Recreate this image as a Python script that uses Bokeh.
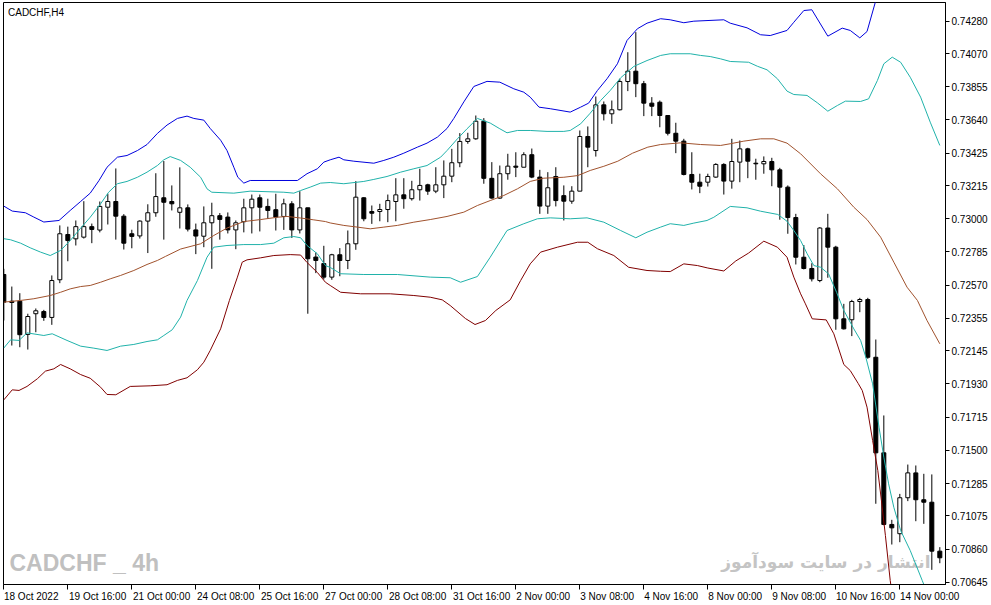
from bokeh.plotting import figure
from bokeh.models import ColumnDataSource, FixedTicker, Range1d, PrintfTickFormatter, Label
from bokeh.embed import file_html
from bokeh.resources import INLINE

# ---------------- data ----------------
symbol_title = "CADCHF,H4"
watermark_left = "CADCHF _ 4h"
watermark_right = "انتشار در سایت سودآموز"

open_ = [0.72639, 0.72466, 0.72466, 0.72251, 0.72385, 0.72399, 0.72361, 0.72605, 0.72898, 0.72870,
         0.72881, 0.72949, 0.72927, 0.73075, 0.73112, 0.73017, 0.72903, 0.72889, 0.72985, 0.73039,
         0.73136, 0.73112, 0.73042, 0.73071, 0.72928, 0.72887, 0.72974, 0.73020, 0.73011, 0.72928,
         0.72981, 0.73071, 0.73136, 0.73080, 0.73059, 0.73015, 0.73097, 0.72928, 0.73071, 0.72752,
         0.72710, 0.72622, 0.72767, 0.72730, 0.72838, 0.73136, 0.73047, 0.73047, 0.73060, 0.73112,
         0.73155, 0.73130, 0.73188, 0.73220, 0.73179, 0.73220, 0.73276, 0.73363, 0.73501, 0.73518,
         0.73632, 0.73262, 0.73134, 0.73292, 0.73341, 0.73334, 0.73415, 0.73270, 0.73082, 0.73274,
         0.73150, 0.73114, 0.73179, 0.73533, 0.73442, 0.73738, 0.73680, 0.73706, 0.73889, 0.73956,
         0.73875, 0.73749, 0.73755, 0.73669, 0.73554, 0.73503, 0.73287, 0.73237, 0.73237, 0.73270,
         0.73352, 0.73244, 0.73367, 0.73453, 0.73360, 0.73356, 0.73371, 0.73317, 0.73205, 0.73008,
         0.72751, 0.72678, 0.72600, 0.72940, 0.72816, 0.72352, 0.72346, 0.72464, 0.72477, 0.72103,
         0.71484, 0.71020, 0.70960, 0.71193, 0.71354, 0.71180, 0.71164, 0.70847]
high = [0.72676, 0.72561, 0.72518, 0.72385, 0.72419, 0.72410, 0.72633, 0.72957, 0.72949, 0.72989,
        0.73114, 0.72969, 0.73112, 0.73162, 0.73326, 0.73030, 0.72929, 0.72990, 0.73094, 0.73295,
        0.73374, 0.73216, 0.73333, 0.73093, 0.72969, 0.73080, 0.73104, 0.73037, 0.73041, 0.72989,
        0.73130, 0.73157, 0.73157, 0.73130, 0.73162, 0.73130, 0.73114, 0.73179, 0.73071, 0.72782,
        0.72825, 0.72773, 0.72810, 0.72924, 0.73244, 0.73140, 0.73086, 0.73097, 0.73157, 0.73263,
        0.73263, 0.73246, 0.73324, 0.73227, 0.73334, 0.73378, 0.73453, 0.73555, 0.73557, 0.73669,
        0.73652, 0.73367, 0.73345, 0.73421, 0.73431, 0.73431, 0.73455, 0.73317, 0.73302, 0.73334,
        0.73216, 0.73211, 0.73572, 0.73598, 0.73792, 0.73760, 0.73766, 0.73907, 0.74079, 0.74209,
        0.73893, 0.73788, 0.73766, 0.73669, 0.73622, 0.73518, 0.73431, 0.73292, 0.73292, 0.73360,
        0.73360, 0.73518, 0.73507, 0.73460, 0.73389, 0.73404, 0.73395, 0.73330, 0.73216, 0.73032,
        0.72830, 0.72712, 0.72946, 0.73032, 0.72825, 0.72449, 0.72475, 0.72488, 0.72488, 0.72218,
        0.71726, 0.71050, 0.71218, 0.71408, 0.71402, 0.71348, 0.71344, 0.70873]
low = [0.72341, 0.72179, 0.72168, 0.72153, 0.72265, 0.72339, 0.72313, 0.72583, 0.72725, 0.72827,
       0.72872, 0.72842, 0.72912, 0.72963, 0.72865, 0.72801, 0.72809, 0.72872, 0.72778, 0.73013,
       0.72865, 0.73054, 0.72937, 0.72918, 0.72771, 0.72816, 0.72676, 0.72865, 0.72905, 0.72803,
       0.72912, 0.72905, 0.72918, 0.73000, 0.72924, 0.72928, 0.72876, 0.72905, 0.72385, 0.72648,
       0.72607, 0.72605, 0.72628, 0.72674, 0.72799, 0.72984, 0.72967, 0.72984, 0.72978, 0.72984,
       0.73065, 0.73118, 0.73118, 0.73155, 0.73166, 0.73134, 0.73237, 0.73334, 0.73486, 0.73512,
       0.73227, 0.73130, 0.73130, 0.73253, 0.73270, 0.73334, 0.73263, 0.73032, 0.73032, 0.73080,
       0.72989, 0.73097, 0.73179, 0.73334, 0.73403, 0.73637, 0.73615, 0.73702, 0.73827, 0.73788,
       0.73665, 0.73665, 0.73593, 0.73540, 0.73425, 0.73281, 0.73190, 0.73166, 0.73209, 0.73266,
       0.73157, 0.73195, 0.73237, 0.73263, 0.73253, 0.73292, 0.73211, 0.72994, 0.72903, 0.72704,
       0.72672, 0.72594, 0.72589, 0.72618, 0.72281, 0.72283, 0.72240, 0.72395, 0.72093, 0.71154,
       0.71015, 0.70890, 0.70905, 0.71171, 0.71041, 0.71024, 0.70726, 0.70769]
close = [0.72460, 0.72458, 0.72249, 0.72367, 0.72404, 0.72361, 0.72600, 0.72903, 0.72859, 0.72949,
         0.72949, 0.72931, 0.73080, 0.73112, 0.73017, 0.72842, 0.72886, 0.72985, 0.73039, 0.73144,
         0.73107, 0.73097, 0.73071, 0.72933, 0.72888, 0.72974, 0.73020, 0.72996, 0.72928, 0.72974,
         0.73071, 0.73127, 0.73075, 0.73054, 0.73011, 0.73097, 0.72928, 0.73071, 0.72741, 0.72730,
         0.72622, 0.72767, 0.72730, 0.72838, 0.73140, 0.73000, 0.73036, 0.73060, 0.73118, 0.73155,
         0.73130, 0.73188, 0.73216, 0.73179, 0.73220, 0.73276, 0.73363, 0.73501, 0.73518, 0.73632,
         0.73262, 0.73134, 0.73292, 0.73341, 0.73334, 0.73415, 0.73270, 0.73082, 0.73201, 0.73118,
         0.73114, 0.73179, 0.73533, 0.73464, 0.73738, 0.73680, 0.73706, 0.73889, 0.73956, 0.73875,
         0.73749, 0.73729, 0.73669, 0.73554, 0.73503, 0.73287, 0.73237, 0.73211, 0.73274, 0.73352,
         0.73244, 0.73371, 0.73453, 0.73373, 0.73356, 0.73371, 0.73317, 0.73205, 0.73008, 0.72751,
         0.72678, 0.72611, 0.72940, 0.72816, 0.72352, 0.72287, 0.72464, 0.72477, 0.72103, 0.71484,
         0.71020, 0.70998, 0.71193, 0.71354, 0.71180, 0.71164, 0.70847, 0.70804]

# indicator lines: (bar index, price)
band_outer_upper = [(0, 0.73082), (1.05, 0.73050), (2.7, 0.73039), (3.75, 0.73011), (5, 0.72979), (6.9, 0.72989),
    (8.3, 0.73054), (9.6, 0.73112), (10.8, 0.73166), (11.9, 0.73248), (12.9, 0.73334), (14.2, 0.73399),
    (15.4, 0.73410), (16.7, 0.73442), (17.9, 0.73481), (19.2, 0.73553), (20.4, 0.73607), (21.7, 0.73650),
    (22.9, 0.73665), (23.75, 0.73650), (25, 0.73639), (25.8, 0.73585), (27.1, 0.73509), (27.9, 0.73442),
    (28.75, 0.73334), (29.25, 0.73269), (30, 0.73231), (30.8, 0.73248), (32.9, 0.73248), (36.7, 0.73248),
    (37.9, 0.73292), (39.2, 0.73324), (40, 0.73367), (40.8, 0.73382), (41.9, 0.73399), (42.5, 0.73382),
    (43.75, 0.73373), (46.25, 0.73360), (47.5, 0.73378), (48.75, 0.73399), (50, 0.73425), (51.7, 0.73464),
    (52.9, 0.73490), (54.2, 0.73529), (55.4, 0.73585), (56.25, 0.73650), (57.5, 0.73757), (58.75, 0.73857),
    (60.4, 0.73890), (62, 0.73885), (63.75, 0.73842), (65, 0.73820), (65.8, 0.73788), (66.9, 0.73723),
    (68.3, 0.73713), (70.8, 0.73691), (72.1, 0.73723), (73.1, 0.73749), (74.2, 0.73831), (75.4, 0.73907),
    (76.7, 0.74004), (77.9, 0.74155), (79.2, 0.74231), (80.4, 0.74267), (82.1, 0.74296), (83.3, 0.74289),
    (85, 0.74270), (86.25, 0.74280), (90, 0.74289), (90.8, 0.74267), (92.9, 0.74237), (94.6, 0.74192),
    (95.8, 0.74187), (97.9, 0.74220), (98.75, 0.74273), (100, 0.74349), (101, 0.74354), (103, 0.74183),
    (104.8, 0.74235), (105.8, 0.74220), (107, 0.74172), (107.9, 0.74213), (109, 0.74414), (110, 0.74608),
    (113, 0.74800), (117, 0.75000)]
band_inner_upper = [(0, 0.72871), (0.85, 0.72864), (2.1, 0.72842), (3.3, 0.72812), (4.6, 0.72784), (5.8, 0.72762),
    (7.1, 0.72795), (8.3, 0.72859), (9.6, 0.72939), (10.8, 0.73010), (12.1, 0.73097), (13.1, 0.73172),
    (14.2, 0.73227), (15.4, 0.73242), (16.7, 0.73269), (17.9, 0.73302), (19.2, 0.73345), (20, 0.73382),
    (20.8, 0.73403), (22.1, 0.73378), (23.3, 0.73334), (24.6, 0.73269), (25.4, 0.73194), (26, 0.73172),
    (28.75, 0.73166), (30.8, 0.73179), (35, 0.73172), (36.25, 0.73166), (37.1, 0.73183), (38.3, 0.73205),
    (39.6, 0.73231), (40.8, 0.73235), (42.5, 0.73227), (45, 0.73242), (46.25, 0.73255), (47.9, 0.73274),
    (49.6, 0.73302), (51.25, 0.73324), (52.9, 0.73345), (54.6, 0.73399), (55.4, 0.73442), (56.7, 0.73518),
    (57.9, 0.73583), (59.2, 0.73650), (60.8, 0.73620), (62, 0.73583), (62.9, 0.73557), (64.2, 0.73572),
    (65.8, 0.73572), (67.9, 0.73566), (70, 0.73566), (70.8, 0.73572), (72.1, 0.73615), (73.3, 0.73684),
    (74.6, 0.73766), (75.8, 0.73831), (77.1, 0.73913), (78.75, 0.73987), (80.4, 0.74025), (82.1, 0.74058),
    (83.3, 0.74069), (85.8, 0.74069), (87.1, 0.74058), (88.3, 0.74051), (89.6, 0.74036), (90.8, 0.74019),
    (93.1, 0.74014), (94.2, 0.73988), (95.4, 0.73965), (96.7, 0.73907), (97.9, 0.73827), (98.75, 0.73805),
    (100.4, 0.73799), (101.7, 0.73751), (103, 0.73697), (104.2, 0.73734), (105.2, 0.73762), (107.1, 0.73760),
    (108.1, 0.73777), (109.2, 0.73896), (110, 0.74004), (111.05, 0.74047), (112.1, 0.74014), (113.3, 0.73917),
    (114.6, 0.73788), (115.8, 0.73626), (117, 0.73475)]
band_middle = [(0, 0.72460), (2.1, 0.72471), (3.75, 0.72482), (5.8, 0.72503), (7.1, 0.72524), (8.3, 0.72546),
    (9.6, 0.72561), (10.8, 0.72568), (12.1, 0.72589), (13.3, 0.72611), (14.6, 0.72633), (16.25, 0.72665),
    (17.9, 0.72704), (19.2, 0.72730), (20.2, 0.72756), (22.1, 0.72804), (24.6, 0.72838), (26.25, 0.72892),
    (27.9, 0.72940), (30, 0.72982), (32.1, 0.72995), (34.2, 0.73010), (35.4, 0.73015), (37.1, 0.73005),
    (38.75, 0.72993), (40.2, 0.72982), (40.8, 0.72973), (42.5, 0.72957), (44.2, 0.72946), (45.8, 0.72935),
    (47.5, 0.72946), (49.2, 0.72957), (51.25, 0.72978), (53.3, 0.72995), (55.4, 0.73015), (57.5, 0.73043),
    (59.2, 0.73086), (60.8, 0.73118), (62.5, 0.73151), (64.2, 0.73194), (65.8, 0.73242), (67.5, 0.73263),
    (70, 0.73269), (71.75, 0.73280), (73.3, 0.73313), (75, 0.73340), (76.75, 0.73373), (78.6, 0.73425),
    (80.5, 0.73464), (82.1, 0.73481), (84.6, 0.73492), (87.1, 0.73481), (89.6, 0.73475), (90.8, 0.73486),
    (92.5, 0.73503), (94.6, 0.73518), (96.25, 0.73518), (97.9, 0.73490), (99.6, 0.73421), (102.1, 0.73291),
    (104.2, 0.73194), (106.25, 0.73075), (107.9, 0.72995), (109.6, 0.72881), (111.25, 0.72719),
    (112.9, 0.72557), (114.2, 0.72471), (115.4, 0.72341), (117, 0.72190)]
band_inner_lower = [(0, 0.72163), (0.85, 0.72216), (1.9, 0.72212), (2.9, 0.72261), (5, 0.72244), (6.05, 0.72255),
    (7.9, 0.72212), (9.6, 0.72175), (11.25, 0.72162), (12.9, 0.72147), (14.6, 0.72175), (16.25, 0.72186),
    (17.9, 0.72205), (19.2, 0.72216), (20, 0.72244), (21.05, 0.72281), (22.1, 0.72363), (22.9, 0.72471),
    (24.2, 0.72600), (25.4, 0.72751), (26.25, 0.72816), (27.9, 0.72827), (30, 0.72833), (32.1, 0.72833),
    (33.75, 0.72842), (35, 0.72877), (36.25, 0.72885), (37.1, 0.72877), (37.9, 0.72827), (39.2, 0.72773),
    (40.2, 0.72697), (40.8, 0.72685), (42.1, 0.72644), (45, 0.72639), (49.2, 0.72639), (53.3, 0.72622),
    (55.8, 0.72618), (57.1, 0.72589), (59.2, 0.72626), (60.8, 0.72751), (62.9, 0.72924), (65, 0.72968),
    (66.7, 0.73000), (68.3, 0.73006), (70.8, 0.73000), (72.9, 0.73006), (75, 0.72978), (77.1, 0.72924),
    (79, 0.72877), (80.4, 0.72913), (82.1, 0.72946), (83.3, 0.72968), (85, 0.72957), (86.25, 0.72972),
    (87.9, 0.72989), (88.75, 0.73010), (90.8, 0.73080), (92.9, 0.73071), (94.6, 0.73049), (96.75, 0.73028),
    (97.9, 0.72984), (98.75, 0.72924), (99.6, 0.72859), (100.4, 0.72775), (101.25, 0.72697), (102.1, 0.72686),
    (103.1, 0.72643), (104.1, 0.72523), (105, 0.72406), (106.25, 0.72287), (107.1, 0.72212), (107.75, 0.72103),
    (108.6, 0.71931), (109.4, 0.71650), (110, 0.71456), (110.6, 0.71283), (111.25, 0.71131), (112.1, 0.70981),
    (113.3, 0.70851), (114.8, 0.70657), (115.8, 0.70527), (117, 0.70398)]
band_outer_lower = [(0, 0.71827), (1.05, 0.71892), (1.9, 0.71888), (2.9, 0.71914), (4.2, 0.71964), (5.2, 0.72013),
    (6.25, 0.72028), (7.1, 0.72056), (8.3, 0.72028), (9.6, 0.71991), (10.8, 0.71967), (12.1, 0.71909),
    (12.9, 0.71862), (14, 0.71860), (15.8, 0.71914), (18.3, 0.71918), (20.4, 0.71925), (21.7, 0.71953),
    (22.9, 0.71970), (24.2, 0.72022), (25, 0.72071), (25.8, 0.72147), (27.1, 0.72287), (28.2, 0.72471),
    (29.2, 0.72622), (29.8, 0.72719), (30.4, 0.72734), (32.1, 0.72747), (33.75, 0.72762), (35.8, 0.72768),
    (37.1, 0.72765), (37.9, 0.72717), (39.2, 0.72652), (40.2, 0.72589), (40.8, 0.72568), (42.1, 0.72524),
    (44.6, 0.72514), (48.3, 0.72514), (51.25, 0.72503), (53.3, 0.72492), (54.8, 0.72475), (55.8, 0.72438),
    (57.7, 0.72354), (58.9, 0.72315), (60.2, 0.72341), (61.5, 0.72406), (63.3, 0.72475), (64.6, 0.72600),
    (65.8, 0.72708), (67.1, 0.72784), (69.2, 0.72816), (71.7, 0.72848), (73, 0.72848), (74.2, 0.72806),
    (76.25, 0.72762), (78.1, 0.72686), (80.4, 0.72665), (82.1, 0.72660), (83.3, 0.72658), (85, 0.72708),
    (86.7, 0.72697), (88, 0.72681), (90, 0.72662), (91.5, 0.72727), (93.1, 0.72778), (95, 0.72855),
    (96.7, 0.72816), (97.9, 0.72751), (98.75, 0.72622), (99.6, 0.72514), (100.2, 0.72449), (101.05, 0.72352),
    (102.8, 0.72345), (103.75, 0.72255), (105, 0.72056), (105.8, 0.72017), (106.8, 0.71933), (107.3, 0.71888),
    (107.9, 0.71780), (108.6, 0.71564), (109.25, 0.71369), (109.7, 0.71175), (110.2, 0.70948), (110.8, 0.70657),
    (111.5, 0.70398), (112, 0.70250)]

price_ticks = [0.74280, 0.74070, 0.73855, 0.73640, 0.73425, 0.73215, 0.73000, 0.72785, 0.72570,
               0.72355, 0.72145, 0.71930, 0.71715, 0.71500, 0.71285, 0.71075, 0.70860, 0.70645]
time_tick_bars = [0, 8, 16, 24, 32, 40, 48, 56, 64, 72, 80, 88, 96, 104, 112]
time_tick_labels = ["18 Oct 2022", "19 Oct 16:00", "21 Oct 00:00", "24 Oct 08:00", "25 Oct 16:00",
                    "27 Oct 00:00", "28 Oct 08:00", "31 Oct 16:00", "2 Nov 00:00", "3 Nov 08:00",
                    "4 Nov 16:00", "8 Nov 00:00", "9 Nov 08:00", "10 Nov 16:00", "14 Nov 00:00"]

# ---------------- figure ----------------
FRAME_W, FRAME_H = 942, 582
X_START, X_END = -0.04, 117.71
BAR_PX = FRAME_W / (X_END - X_START)
AXIS_FONT = "Liberation Sans"

p = figure(frame_width=FRAME_W, frame_height=FRAME_H, output_backend="svg", toolbar_location=None,
           x_range=Range1d(X_START, X_END), y_range=Range1d(0.70631, 0.74401),
           y_axis_location="right", min_border_left=3, min_border_top=2,
           min_border_right=45, min_border_bottom=20,
           background_fill_color="white", border_fill_color="white")
p.xgrid.visible = False
p.ygrid.visible = False
p.outline_line_color = "black"
p.outline_line_width = 1

bars = list(range(len(open_)))
src = ColumnDataSource(dict(
    x=bars, o=open_, h=high, l=low, c=close,
    top=[max(a, b) for a, b in zip(open_, close)],
    bottom=[min(a, b) for a, b in zip(open_, close)],
    fill=["white" if c >= o else "black" for o, c in zip(open_, close)],
))
p.segment(x0="x", y0="h", x1="x", y1="l", source=src, line_color="black", line_width=1)
p.vbar(x="x", width=0.5, top="top", bottom="bottom", source=src,
       fill_color="fill", line_color="black", line_width=1)

for series, color in [(band_outer_upper, "#0000dd"), (band_inner_upper, "#20b2aa"),
                      (band_middle, "#a0522d"), (band_inner_lower, "#20b2aa"),
                      (band_outer_lower, "#800000")]:
    xs = [a for a, _ in series]
    ys = [b for _, b in series]
    p.line(xs, ys, line_color=color, line_width=1)

# axes
ya = p.yaxis[0]
ya.ticker = FixedTicker(ticks=price_ticks)
ya.formatter = PrintfTickFormatter(format="%.5f")
ya.major_tick_out = 4
ya.major_tick_in = 0
ya.minor_tick_out = 0
ya.minor_tick_in = 0
ya.major_label_standoff = 2
ya.axis_line_color = "black"
ya.major_tick_line_color = "black"
ya.major_label_text_font = AXIS_FONT
ya.major_label_text_font_size = "10px"
ya.major_label_text_color = "black"

# labels start right at each time tick (MT4 style)
label_centers = [b + (1 + 4.8 * len(t) / 2) / BAR_PX for b, t in zip(time_tick_bars, time_tick_labels)]
xa = p.xaxis[0]
xa.ticker = FixedTicker(ticks=label_centers, minor_ticks=time_tick_bars)
xa.major_label_overrides = {c: t for c, t in zip(label_centers, time_tick_labels)}
xa.major_tick_out = 0
xa.major_tick_in = 0
xa.minor_tick_out = 5
xa.minor_tick_in = 0
xa.minor_tick_line_color = "black"
xa.major_label_standoff = 1
xa.axis_line_color = "black"
xa.major_label_text_font = AXIS_FONT
xa.major_label_text_font_size = "10px"
xa.major_label_text_color = "black"

# texts
p.add_layout(Label(x=4.5, y=FRAME_H - 4, x_units="screen", y_units="screen", text=symbol_title,
                   text_font=AXIS_FONT, text_font_size="10px", text_color="black",
                   text_baseline="top"))
p.add_layout(Label(x=6, y=9, x_units="screen", y_units="screen", text=watermark_left,
                   text_font="Liberation Sans", text_font_style="bold",
                   text_font_size="23px", text_color="#c0c0c0", level="underlay"))
p.add_layout(Label(x=927, y=13, x_units="screen", y_units="screen", text=watermark_right,
                   text_font="DejaVu Sans", text_font_style="bold", text_align="right",
                   text_font_size="17px", text_color="#c4c4c4", level="underlay"))

open("out.html", "w").write(file_html(p, INLINE))
